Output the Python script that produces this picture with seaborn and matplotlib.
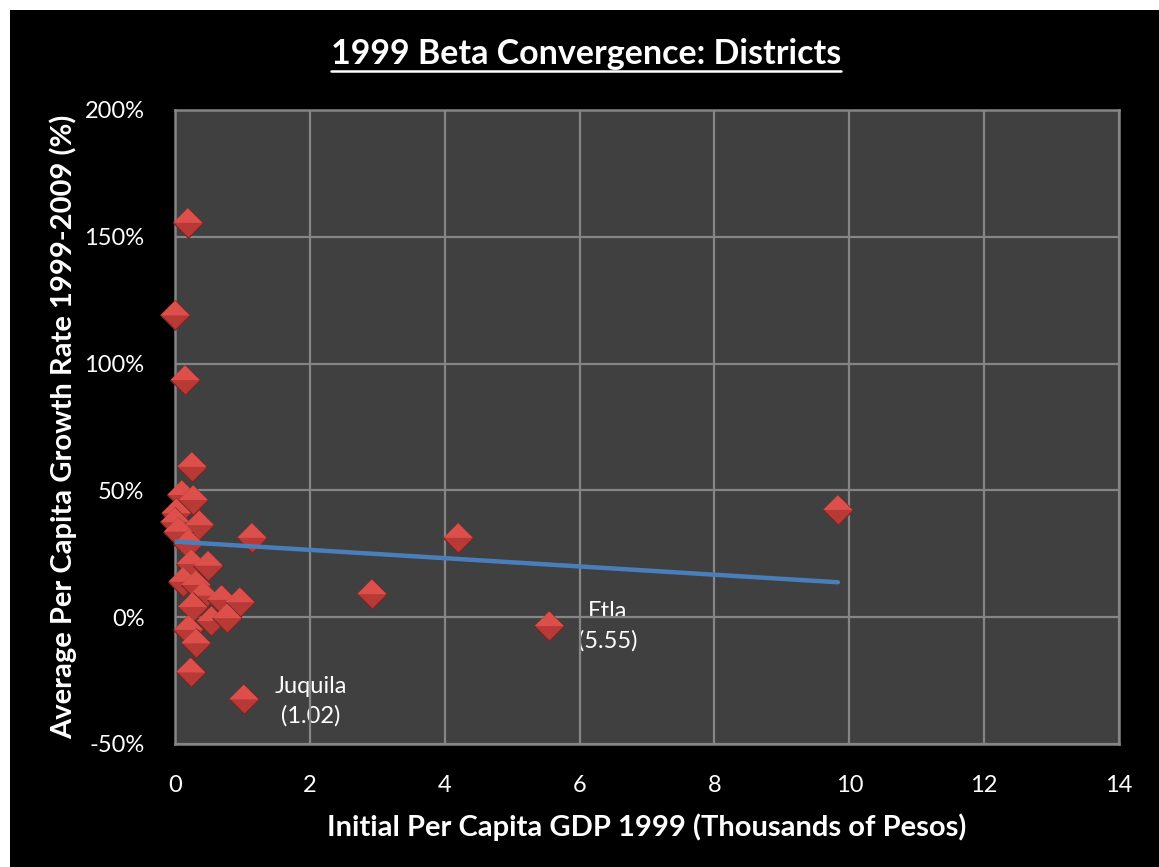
import numpy as np
import pandas as pd
import matplotlib
matplotlib.use("Agg")
import matplotlib.pyplot as plt
from matplotlib.patches import Rectangle
from matplotlib.lines import Line2D
from matplotlib.path import Path
import seaborn as sns

# District data: initial per-capita GDP 1999 (thousands of pesos) and
# average per-capita growth rate 1999-2009 (%)
gdp_1999 = [0.19, 0.00, 0.15, 0.25, 9.83, 4.20, 1.14, 2.92, 5.55, 1.02,
            0.23, 0.10, 0.27, 0.02, 0.00, 0.36, 0.05, 0.20, 0.24, 0.49,
            0.12, 0.31, 0.42, 0.69, 0.96, 0.26, 0.54, 0.77, 0.20, 0.31]
growth_pct = [155.5, 119.0, 93.5, 59.3, 42.3, 31.3, 31.3, 9.1, -3.5, -32.4,
              -21.8, 48.2, 46.2, 41.0, 37.5, 36.3, 33.7, 29.0, 21.0, 20.3,
              14.0, 12.7, 8.5, 6.8, 5.9, 4.0, -1.5, -0.4, -5.0, -10.3]

# Linear trend (intercept in %, slope in % per thousand pesos)
trend_intercept = 29.8
trend_slope = -1.63

# Labelled districts
label_names = ["Etla", "Juquila"]
label_gdp = [5.55, 1.02]

x_ticks = [0, 2, 4, 6, 8, 10, 12, 14]
y_ticks = [-50, 0, 50, 100, 150, 200]

title = "1999 Beta Convergence: Districts"
x_label = "Initial Per Capita GDP 1999 (Thousands of Pesos)"
y_label = "Average Per Capita Growth Rate 1999-2009 (%)"

df = pd.DataFrame({"gdp": gdp_1999, "growth": growth_pct})

sns.set_theme(style="dark")
plt.rcParams["font.family"] = ["Lato", "DejaVu Sans"]

W, H, DPI = 1159, 867, 100
fig = plt.figure(figsize=(W / DPI, H / DPI), dpi=DPI)
fig.patch.set_facecolor("white")
fig.add_artist(Rectangle((10 / W, 0), 1 - 10 / W, 1 - 10 / H,
                         transform=fig.transFigure, facecolor="black",
                         edgecolor="none", zorder=-10))

ax = fig.add_axes([175 / W, 1 - 744 / H, (1119 - 175) / W, (744 - 110) / H])
ax.set_facecolor("#404040")

grid_col = "#858585"
ax.set_axisbelow(False)
ax.grid(True, color=grid_col, linewidth=1.6, zorder=1.5)
for sp in ax.spines.values():
    sp.set_color(grid_col)
    sp.set_linewidth(1.8)
    sp.set_visible(True)

# Diamond markers with a bevelled look: dark full diamond + lighter top half
diamond = Path([(0, 1), (1, 0), (0, -1), (-1, 0), (0, 1)],
               [Path.MOVETO, Path.LINETO, Path.LINETO, Path.LINETO, Path.CLOSEPOLY])
top_half = Path([(-1, 0), (0, 1), (1, 0), (-1, 0)],
                [Path.MOVETO, Path.LINETO, Path.LINETO, Path.CLOSEPOLY])
msize = 450

for i in range(len(df)):
    row = df.iloc[[i]]
    sns.scatterplot(data=row, x="gdp", y="growth", ax=ax, marker=diamond,
                    s=msize, color="#b83a36", edgecolor="#7a2422",
                    linewidth=0.8, legend=False, zorder=3, clip_on=False)
    sns.scatterplot(data=row, x="gdp", y="growth", ax=ax, marker=top_half,
                    s=msize, color="#dc4f4b", edgecolor="none",
                    linewidth=0, legend=False, zorder=3, clip_on=False)

# Trend line across the data range
xt = np.array([min(gdp_1999), max(gdp_1999)])
trend_df = pd.DataFrame({"gdp": xt, "growth": trend_intercept + trend_slope * xt})
sns.lineplot(data=trend_df, x="gdp", y="growth", ax=ax, color="#4a7ebb",
             linewidth=3.2, zorder=4)

# District labels next to their points
label_offsets = [(0.87, 0.0), (0.99, -0.6)]
for name, gx, (dx, dy) in zip(label_names, label_gdp, label_offsets):
    gy = growth_pct[gdp_1999.index(gx)]
    ax.text(gx + dx, gy + dy, f"{name}\n({gx:.2f})", color="white",
            fontsize=17, ha="center", va="center", linespacing=1.45,
            zorder=1)

ax.set_xlim(x_ticks[0], x_ticks[-1])
ax.set_ylim(y_ticks[0], y_ticks[-1])
ax.set_xticks(x_ticks)
ax.set_yticks(y_ticks)
ax.set_xticklabels([str(t) for t in x_ticks])
ax.set_yticklabels([f"{t}%" for t in y_ticks])
ax.tick_params(axis="both", colors="white", labelsize=17, length=0)
ax.tick_params(axis="x", pad=22)
ax.tick_params(axis="y", pad=22)

ax.set_xlabel(x_label, color="white", fontsize=21, fontweight="bold", labelpad=13)
ax.set_ylabel(y_label, color="white", fontsize=21, fontweight="bold", labelpad=5)

t = fig.text(586 / W, 1 - 54 / H, title, color="white", fontsize=24.5,
             fontweight="bold", ha="center", va="center")

# Underline the title
fig.canvas.draw()
bb = t.get_window_extent(renderer=fig.canvas.get_renderer())
uy = (bb.y0 - 1) / H
fig.add_artist(Line2D([bb.x0 / W, bb.x1 / W], [uy, uy], color="white",
                      linewidth=1.8, transform=fig.transFigure))

fig.savefig("out.png", dpi=DPI, facecolor=fig.get_facecolor())
